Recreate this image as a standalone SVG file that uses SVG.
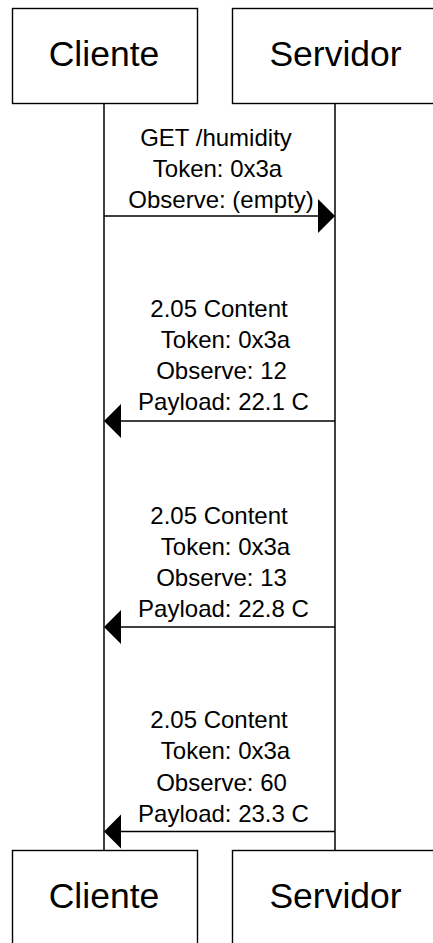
<svg xmlns="http://www.w3.org/2000/svg" width="433" height="943" viewBox="0 0 433 943">
<style>
.box{fill:#fff;stroke:#000;stroke-width:1.4}
.head{font-family:"Liberation Sans",Arial,sans-serif;font-size:35.5px;fill:#000;text-anchor:middle}
.msg{font-family:"Liberation Sans",Arial,sans-serif;font-size:24px;fill:#000;text-anchor:middle}
.life{stroke:#000;stroke-width:1.5;fill:none}
.arr{stroke:#000;stroke-width:1.5;fill:none}
.head-tri{fill:#000;stroke:none}
</style>
<rect width="433" height="943" fill="#fff"/>
<g id="connectors">
<line class="life" x1="104" y1="104" x2="104" y2="851"/>
<line class="life" x1="335" y1="104" x2="335" y2="851"/>
<line class="arr" x1="104" y1="216" x2="320" y2="216"/>
<polygon class="head-tri" points="318,199 335,216 318,233"/>
<line class="arr" x1="119" y1="421" x2="335" y2="421"/>
<polygon class="head-tri" points="121,404 104,421 121,438"/>
<line class="arr" x1="119" y1="627" x2="335" y2="627"/>
<polygon class="head-tri" points="121,610 104,627 121,644"/>
<line class="arr" x1="119" y1="831.5" x2="335" y2="831.5"/>
<polygon class="head-tri" points="121,814.5 104,831.5 121,848.5"/>
</g>
<g id="msg1">
<text class="msg" x="216" y="145.5">GET /humidity</text>
<text class="msg" x="217.5" y="176.5">Token: 0x3a</text>
<text class="msg" x="221" y="207.5">Observe: (empty)</text>
</g>
<g id="msg2">
<text class="msg" x="219" y="317">2.05 Content</text>
<text class="msg" x="225.5" y="348">Token: 0x3a</text>
<text class="msg" x="221.5" y="379">Observe: 12</text>
<text class="msg" x="223.5" y="410">Payload: 22.1 C</text>
</g>
<g id="msg3">
<text class="msg" x="219" y="524">2.05 Content</text>
<text class="msg" x="225.5" y="555">Token: 0x3a</text>
<text class="msg" x="221.5" y="586">Observe: 13</text>
<text class="msg" x="223.5" y="617">Payload: 22.8 C</text>
</g>
<g id="msg4">
<text class="msg" x="219" y="727.5">2.05 Content</text>
<text class="msg" x="225.5" y="759">Token: 0x3a</text>
<text class="msg" x="221.5" y="790.5">Observe: 60</text>
<text class="msg" x="223.5" y="821.5">Payload: 23.3 C</text>
</g>
<g id="cliente-top">
<rect class="box" x="12.5" y="8.5" width="185" height="95"/>
<text class="head" x="104" y="66">Cliente</text>
</g>
<g id="servidor-top">
<rect class="box" x="232.5" y="8.5" width="205" height="95"/>
<text class="head" x="335.5" y="66">Servidor</text>
</g>
<g id="cliente-bottom">
<rect class="box" x="12.5" y="850.5" width="185" height="95"/>
<text class="head" x="104" y="908">Cliente</text>
</g>
<g id="servidor-bottom">
<rect class="box" x="232.5" y="850.5" width="205" height="95"/>
<text class="head" x="335.5" y="908">Servidor</text>
</g>
</svg>
